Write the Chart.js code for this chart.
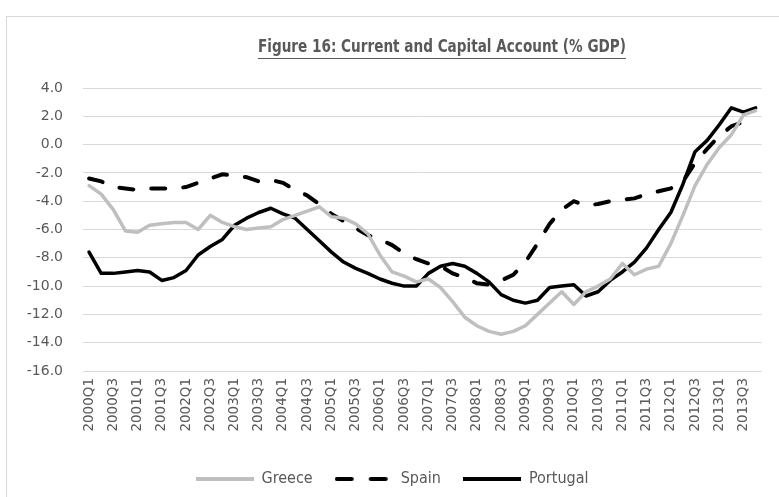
<!DOCTYPE html>
<html>
<head>
<meta charset="utf-8">
<script src="https://cdn.jsdelivr.net/npm/chart.js@4.4.1/dist/chart.umd.min.js"></script>
<style>
  html, body { margin: 0; padding: 0; background: #ffffff; }
  #wrap { position: relative; width: 779px; height: 497px; }
</style>
</head>
<body>
<div id="wrap"><canvas id="chart"></canvas></div>
<script>
// Quarterly data, 2000Q1 - 2013Q4
const quarters = [
    "2000Q1", "2000Q2", "2000Q3", "2000Q4", "2001Q1", "2001Q2", "2001Q3", "2001Q4",
    "2002Q1", "2002Q2", "2002Q3", "2002Q4", "2003Q1", "2003Q2", "2003Q3", "2003Q4",
    "2004Q1", "2004Q2", "2004Q3", "2004Q4", "2005Q1", "2005Q2", "2005Q3", "2005Q4",
    "2006Q1", "2006Q2", "2006Q3", "2006Q4", "2007Q1", "2007Q2", "2007Q3", "2007Q4",
    "2008Q1", "2008Q2", "2008Q3", "2008Q4", "2009Q1", "2009Q2", "2009Q3", "2009Q4",
    "2010Q1", "2010Q2", "2010Q3", "2010Q4", "2011Q1", "2011Q2", "2011Q3", "2011Q4",
    "2012Q1", "2012Q2", "2012Q3", "2012Q4", "2013Q1", "2013Q2", "2013Q3", "2013Q4"
];

const greece = [
    -2.9, -3.5, -4.6, -6.1, -6.2, -5.7, -5.6, -5.5,
    -5.5, -6.0, -5.0, -5.5, -5.8, -6.0, -5.9, -5.8,
    -5.3, -5.0, -4.7, -4.4, -5.1, -5.2, -5.6, -6.3,
    -7.8, -9.0, -9.3, -9.7, -9.5, -10.1, -11.1, -12.2,
    -12.8, -13.2, -13.4, -13.2, -12.8, -12.0, -11.2, -10.4,
    -11.3, -10.4, -10.0, -9.5, -8.4, -9.2, -8.8, -8.6,
    -7.0, -5.0, -2.9, -1.4, -0.2, 0.7, 2.1, 2.4
];

const spain = [
    -2.4, -2.6, -3.0, -3.1, -3.2, -3.1, -3.1, -3.1,
    -3.0, -2.7, -2.4, -2.1, -2.2, -2.3, -2.6, -2.5,
    -2.7, -3.2, -3.6, -4.2, -4.9, -5.4, -5.9, -6.4,
    -6.7, -7.1, -7.7, -8.1, -8.4, -8.6, -9.1, -9.4,
    -9.8, -9.9, -9.6, -9.2, -8.3, -7.0, -5.6, -4.6,
    -4.0, -4.3, -4.2, -4.0, -3.9, -3.8, -3.5, -3.3,
    -3.1, -2.6, -1.3, -0.3, 0.6, 1.3, 1.6, 1.6
];

const portugal = [
    -7.6, -9.1, -9.1, -9.0, -8.9, -9.0, -9.6, -9.4,
    -8.9, -7.8, -7.2, -6.7, -5.7, -5.2, -4.8, -4.5,
    -4.9, -5.2, -6.0, -6.8, -7.6, -8.3, -8.75, -9.1,
    -9.5, -9.8, -10.0, -10.0, -9.1, -8.6, -8.4, -8.6,
    -9.1, -9.7, -10.6, -11.0, -11.2, -11.0, -10.1, -10.0,
    -9.9, -10.7, -10.4, -9.6, -9.0, -8.3, -7.3, -6.0,
    -4.8, -2.8, -0.5, 0.3, 1.4, 2.6, 2.3, 2.6
];

const yMin = -16;
const yMax = 4;
const yStep = 2;

const titleText = "Figure 16: Current and Capital Account (% GDP)";
const textColor = "#595959";
const gridColor = "#d9d9d9";
const narrowFont = "'Liberation Sans Narrow', 'DejaVu Sans Condensed', 'Liberation Sans', sans-serif";
const tickFont = "'DejaVu Sans', 'Liberation Sans', sans-serif";

// little line samples used as legend symbols
function lineSample(color, width, dash) {
    const c = document.createElement("canvas");
    c.width = 58;
    c.height = 6;
    const g = c.getContext("2d");
    g.strokeStyle = color;
    g.lineWidth = width;
    g.lineCap = dash.length ? "round" : "butt";
    g.setLineDash(dash);
    g.beginPath();
    g.moveTo(dash.length ? 2 : 0, 3);
    g.lineTo(dash.length ? 56 : 58, 3);
    g.stroke();
    return c;
}

// Outer frame + underlined title (title sits right of centre, as in the source)
const framePlugin = {
    id: "frame",
    beforeDraw(chart) {
        const ctx = chart.ctx;
        ctx.save();
        ctx.fillStyle = "#ffffff";
        ctx.fillRect(0, 0, chart.width, chart.height);
        ctx.strokeStyle = gridColor;
        ctx.lineWidth = 1;
        ctx.strokeRect(6.5, 16.5, chart.width + 20, chart.height + 20);
        ctx.restore();
    },
    afterDraw(chart) {
        const ctx = chart.ctx;
        const left = 258, right = 626;
        ctx.save();
        ctx.font = "bold 17px " + narrowFont;
        const w = ctx.measureText(titleText).width;
        const sx = (right - left) / w;
        ctx.translate((left + right) / 2, 48);
        ctx.scale(sx, 1);
        ctx.fillStyle = textColor;
        ctx.textAlign = "center";
        ctx.textBaseline = "middle";
        ctx.fillText(titleText, 0, 0);
        ctx.restore();

        ctx.save();
        ctx.strokeStyle = textColor;
        ctx.lineWidth = 1.2;
        ctx.beginPath();
        ctx.moveTo(left, 58.5);
        ctx.lineTo(right, 58.5);
        ctx.stroke();
        ctx.restore();
    }
};

const ctx = document.getElementById("chart").getContext("2d");

new Chart(ctx, {
    type: "line",
    data: {
        labels: quarters,
        datasets: [
            {
                label: "Greece",
                data: greece,
                borderColor: "#bfbfbf",
                backgroundColor: "#bfbfbf",
                borderWidth: 3.5,
                pointRadius: 0,
                pointStyle: lineSample("#bfbfbf", 4, []),
                tension: 0,
                borderCapStyle: "round",
                borderJoinStyle: "round"
            },
            {
                label: "Spain",
                data: spain,
                borderColor: "#000000",
                backgroundColor: "#000000",
                borderWidth: 4,
                borderDash: [14, 18],
                borderCapStyle: "round",
                pointRadius: 0,
                pointStyle: lineSample("#000000", 4, [15, 19]),
                tension: 0
            },
            {
                label: "Portugal",
                data: portugal,
                borderColor: "#000000",
                backgroundColor: "#000000",
                borderWidth: 3.5,
                pointRadius: 0,
                pointStyle: lineSample("#000000", 4, []),
                tension: 0,
                borderCapStyle: "round",
                borderJoinStyle: "round"
            }
        ]
    },
    options: {
        responsive: true,
        maintainAspectRatio: false,
        animation: false,
        layout: {
            padding: { left: 22, right: 17, top: 88, bottom: 0 }
        },
        plugins: {
            title: { display: false },
            legend: {
                display: true,
                position: "bottom",
                labels: {
                    color: textColor,
                    font: { family: narrowFont, size: 16 },
                    usePointStyle: true,
                    pointStyleWidth: 58,
                    boxWidth: 58,
                    boxHeight: 6,
                    padding: 22
                }
            },
            tooltip: { enabled: false }
        },
        scales: {
            x: {
                offset: true,
                grid: { display: false, drawTicks: false },
                border: { display: false },
                ticks: {
                    color: textColor,
                    font: { family: tickFont, size: 13.5 },
                    autoSkip: false,
                    minRotation: 90,
                    maxRotation: 90,
                    padding: 7,
                    callback: function(value, index) {
                        return index % 2 === 0 ? quarters[index] : "";
                    }
                },
                afterFit: function(scale) {
                    scale.height = 78;
                }
            },
            y: {
                min: yMin,
                max: yMax,
                grid: { color: gridColor, lineWidth: 1, drawTicks: false },
                border: { display: false },
                ticks: {
                    stepSize: yStep,
                    color: textColor,
                    font: { family: tickFont, size: 14 },
                    padding: 20,
                    callback: function(value) {
                        return value.toFixed(1);
                    }
                },
                afterFit: function(scale) {
                    scale.width = 61;
                }
            }
        }
    },
    plugins: [framePlugin]
});
</script>
</body>
</html>
